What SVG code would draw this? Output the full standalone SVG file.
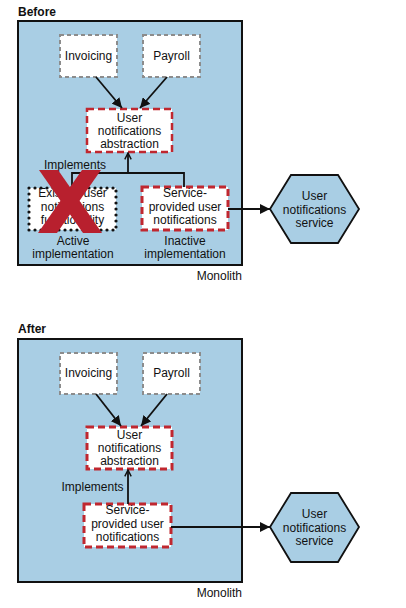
<svg xmlns="http://www.w3.org/2000/svg" width="406" height="608" viewBox="0 0 406 608">
<style>
text{font-family:"Liberation Sans",Arial,sans-serif;font-size:12px;fill:#111;text-anchor:middle}
.title{font-weight:bold;text-anchor:start}
.right{text-anchor:end}
.mono{fill:#a9cee4;stroke:#111;stroke-width:2}
.gray{fill:#fff;stroke:#8c8c8c;stroke-width:2;stroke-dasharray:4 3}
.red{fill:#fff;stroke:#c0272f;stroke-width:3;stroke-dasharray:7 4}
.dot{fill:#fff;stroke:#111;stroke-width:3.2;stroke-dasharray:0 6;stroke-linecap:round}
.hex{fill:#a9cee4;stroke:#111;stroke-width:1.8}
.ln{fill:none;stroke:#111;stroke-width:1.8}
.x{fill:#b8202e}
</style>
<defs>
<marker id="tri" viewBox="0 0 10 10" refX="10" refY="5" markerWidth="10" markerHeight="10" markerUnits="userSpaceOnUse" orient="auto">
<path d="M0,0 L10,5 L0,10 z" fill="#111"/>
</marker>
<marker id="open" viewBox="0 0 10 10" refX="9" refY="5" markerWidth="8" markerHeight="8" markerUnits="userSpaceOnUse" orient="auto">
<path d="M1,1 L9,5 L1,9" fill="none" stroke="#111" stroke-width="1.8"/>
</marker>
</defs>

<!-- BEFORE -->
<text class="title" x="18" y="16">Before</text>
<g id="monolith-before">
<rect class="mono" x="18" y="21" width="224" height="244"/>
<text class="right" x="242" y="280">Monolith</text>
</g>
<g id="invoicing-before">
<rect class="gray" x="60" y="35" width="57" height="42"/>
<text x="88.5" y="60">Invoicing</text>
</g>
<g id="payroll-before">
<rect class="gray" x="143" y="35" width="57" height="42"/>
<text x="171.5" y="60">Payroll</text>
</g>
<g id="abstraction-before">
<rect class="red" x="87" y="109" width="85" height="43" style="stroke-width:2.5"/>
<text x="129.5" y="122">User</text>
<text x="129.5" y="135">notifications</text>
<text x="129.5" y="148">abstraction</text>
</g>
<g id="existing-before">
<rect class="dot" x="29" y="188" width="87" height="42"/>
<text x="72.5" y="197">Existing user</text>
<text x="72.5" y="211">notifications</text>
<text x="72.5" y="224">functionality</text>
<text x="73" y="245">Active</text>
<text x="73" y="258">implementation</text>
</g>
<g id="service-before">
<rect class="red" x="142" y="187" width="86" height="43"/>
<text x="185" y="197">Service-</text>
<text x="185" y="211">provided user</text>
<text x="185" y="224">notifications</text>
<text x="185" y="245">Inactive</text>
<text x="185" y="258">implementation</text>
</g>
<g id="usvc-before">
<polygon class="hex" points="270,209 291,175 338,175 359,209 338,243 291,243"/>
<text x="314.5" y="200">User</text>
<text x="314.5" y="213.5">notifications</text>
<text x="314.5" y="227">service</text>
</g>
<g id="connectors-before">
<line class="ln" x1="96" y1="77" x2="122" y2="108" marker-end="url(#tri)"/>
<line class="ln" x1="167" y1="77" x2="140" y2="108" marker-end="url(#tri)"/>
<path class="ln" d="M72,188 V173 H184 V187"/>
<line class="ln" x1="128" y1="173" x2="128" y2="153" marker-end="url(#open)"/>
<text x="75" y="169">Implements</text>
<line class="ln" x1="228" y1="209" x2="270" y2="209" marker-end="url(#tri)"/>
</g>
<g id="cross">
<polygon class="x" points="39,170 58,170 102,233 83,233"/>
<polygon class="x" points="82,170 101,170 57,233 38,233"/>
</g>

<!-- AFTER -->
<text class="title" x="18" y="333">After</text>
<g id="monolith-after">
<rect class="mono" x="18" y="339" width="224" height="243"/>
<text class="right" x="242" y="597">Monolith</text>
</g>
<g id="invoicing-after">
<rect class="gray" x="60" y="353" width="57" height="41"/>
<text x="88.5" y="377">Invoicing</text>
</g>
<g id="payroll-after">
<rect class="gray" x="143" y="353" width="57" height="41"/>
<text x="171.5" y="377">Payroll</text>
</g>
<g id="abstraction-after">
<rect class="red" x="87" y="427" width="85" height="42"/>
<text x="129.5" y="439">User</text>
<text x="129.5" y="452">notifications</text>
<text x="129.5" y="465">abstraction</text>
</g>
<g id="service-after">
<rect class="red" x="84" y="504" width="87" height="43"/>
<text x="127.5" y="514">Service-</text>
<text x="127.5" y="528">provided user</text>
<text x="127.5" y="541">notifications</text>
</g>
<g id="usvc-after">
<polygon class="hex" points="270,527 291,493 338,493 359,527 338,562 291,562"/>
<text x="314.5" y="518">User</text>
<text x="314.5" y="531.5">notifications</text>
<text x="314.5" y="545">service</text>
</g>
<g id="connectors-after">
<line class="ln" x1="96" y1="394" x2="121" y2="426" marker-end="url(#tri)"/>
<line class="ln" x1="167" y1="394" x2="141" y2="426" marker-end="url(#tri)"/>
<line class="ln" x1="128" y1="504" x2="128" y2="470" marker-end="url(#open)"/>
<text x="92.5" y="491">Implements</text>
<line class="ln" x1="171" y1="527" x2="270" y2="527" marker-end="url(#tri)"/>
</g>
</svg>
